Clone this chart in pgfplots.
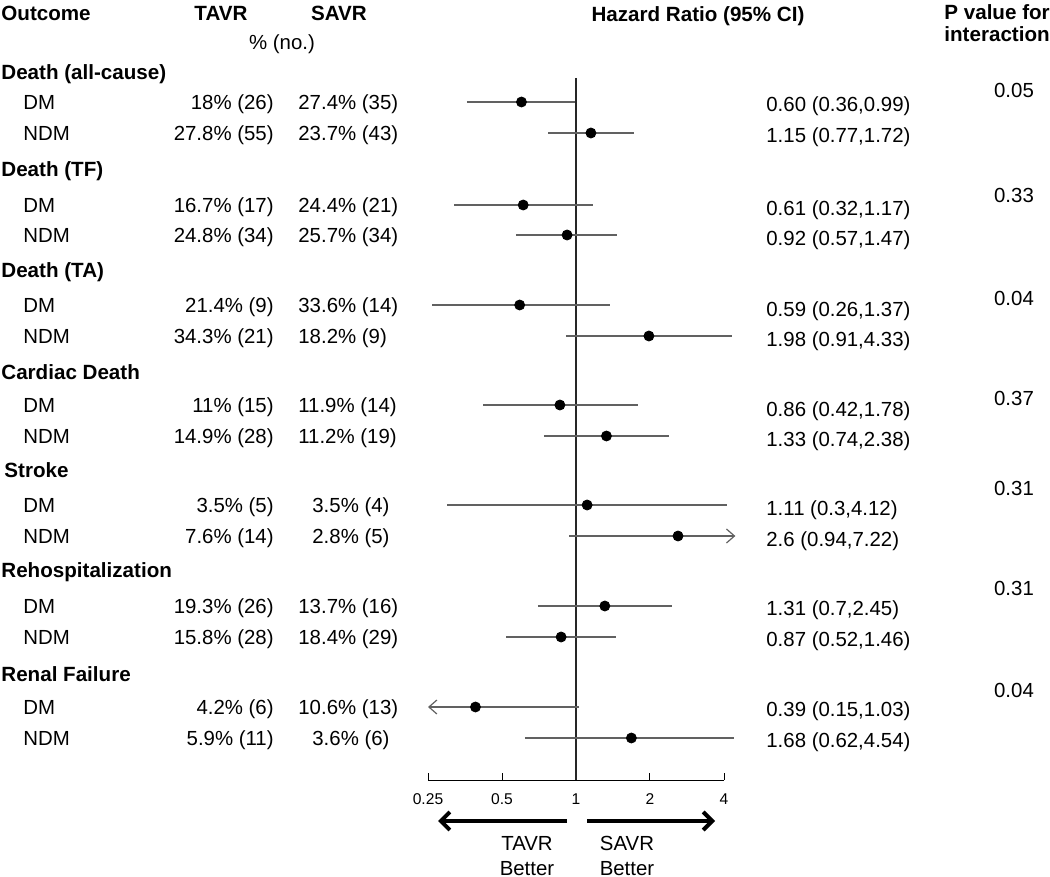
\documentclass[border=0pt]{standalone}
\usepackage{pgfplots}
\pgfplotsset{compat=1.18}
\usepackage{fontspec}
\setmainfont{Liberation Sans}
\usetikzlibrary{arrows.meta}

\pgfplotstableread{
y hr lo hi
-102 0.60 0.36 0.99
-133 1.15 0.77 1.72
-205 0.61 0.32 1.17
-235 0.92 0.57 1.47
-305 0.59 0.26 1.37
-336 1.98 0.91 4.33
-405 0.86 0.42 1.78
-436 1.33 0.74 2.38
-505 1.11 0.30 4.12
-536 2.60 0.94 7.22
-606 1.31 0.70 2.45
-637 0.87 0.52 1.46
-707 0.39 0.15 1.03
-738 1.68 0.62 4.54
}\hrtable

\tikzset{
  t/.style={font=\fontsize{10.2}{12}\selectfont, inner sep=0pt, text height=7.3pt, text depth=0pt},
  b/.style={font=\fontsize{10.3}{12}\selectfont\bfseries, inner sep=0pt, text height=7.4pt, text depth=0pt},
}
\newcommand{\figsp}{\hspace*{7pt}}

\begin{document}
\begin{tikzpicture}
\path[use as bounding box] (0,0) rectangle (525pt,-438.5pt);
\begin{axis}[
  at={(214pt,-390pt)}, anchor=south west,
  scale only axis, width=148pt, height=351pt,
  xmode=log, log basis x=2, xmin=0.25, xmax=4,
  ymin=-780, ymax=-78,
  axis x line=bottom, axis y line=none,
  axis line style={-, black, line width=0.5pt},
  xtick={0.25,0.5,1,2,4}, xticklabels={0.25,0.5,1,2,4},
  ytick=\empty,
  tick align=inside, major tick length=3.5pt,
  tick style={black, line width=0.5pt},
  xticklabel style={font=\fontsize{7.8}{9}\selectfont, yshift=-3.2pt},
  clip=false,
  ci/.style={color=black!62, line width=0.6pt, no marks},
]
\addplot[black!85, line width=0.55pt, no marks] coordinates {(1,-78) (1,-780)};
\addplot[ci] coordinates {(0.36,-102) (0.99,-102)};
\addplot[ci] coordinates {(0.77,-133) (1.72,-133)};
\addplot[ci] coordinates {(0.32,-205) (1.17,-205)};
\addplot[ci] coordinates {(0.57,-235) (1.47,-235)};
\addplot[ci] coordinates {(0.26,-305) (1.37,-305)};
\addplot[ci] coordinates {(0.91,-336) (4.33,-336)};
\addplot[ci] coordinates {(0.42,-405) (1.78,-405)};
\addplot[ci] coordinates {(0.74,-436) (2.38,-436)};
\addplot[ci] coordinates {(0.30,-505) (4.12,-505)};
\addplot[ci, -{Straight Barb[length=4pt,width=7pt]}] coordinates {(0.94,-536) (4.45,-536)};
\addplot[ci] coordinates {(0.70,-606) (2.45,-606)};
\addplot[ci] coordinates {(0.52,-637) (1.46,-637)};
\addplot[ci, -{Straight Barb[length=4pt,width=7pt]}] coordinates {(1.03,-707) (0.25,-707)};
\addplot[ci] coordinates {(0.62,-738) (4.40,-738)};
\addplot[only marks, mark=*, mark size=2.5pt, black] table[x=hr, y=y] {\hrtable};
\end{axis}

\begin{scope}[x=0.5pt, y=-0.5pt]
% headers
\node[b, anchor=west] at (1,13) {Outcome};
\node[b] at (221,13) {TAVR};
\node[b] at (339,13) {SAVR};
\node[t] at (282,42) {\% (no.)};
\node[b] at (698,14) {Hazard Ratio (95\% CI)};
\node[b, anchor=west] at (944,12) {P value for};
\node[b, anchor=west] at (944,34) {interaction};

% group headings
\node[b, anchor=west] at (1,72) {Death (all-cause)};
\node[b, anchor=west] at (1,169) {Death (TF)};
\node[b, anchor=west] at (1,270) {Death (TA)};
\node[b, anchor=west] at (1,372) {Cardiac Death};
\node[b, anchor=west] at (4,470) {Stroke};
\node[b, anchor=west] at (1,570) {Rehospitalization};
\node[b, anchor=west] at (1,674) {Renal Failure};

% subgroup labels
\foreach \yy in {102,205,305,405,505,606,707} {\node[t, anchor=west] at (23,\yy) {DM};}
\foreach \yy in {133,235,336,436,536,637,738} {\node[t, anchor=west] at (23,\yy) {NDM};}

% TAVR column (right aligned)
\node[t, anchor=east] at (274,102) {18\% (26)};
\node[t, anchor=east] at (274,133) {27.8\% (55)};
\node[t, anchor=east] at (274,205) {16.7\% (17)};
\node[t, anchor=east] at (274,235) {24.8\% (34)};
\node[t, anchor=east] at (274,305) {21.4\% (9)};
\node[t, anchor=east] at (274,336) {34.3\% (21)};
\node[t, anchor=east] at (274,405) {11\% (15)};
\node[t, anchor=east] at (274,436) {14.9\% (28)};
\node[t, anchor=east] at (274,505) {3.5\% (5)};
\node[t, anchor=east] at (274,536) {7.6\% (14)};
\node[t, anchor=east] at (274,606) {19.3\% (26)};
\node[t, anchor=east] at (274,637) {15.8\% (28)};
\node[t, anchor=east] at (274,707) {4.2\% (6)};
\node[t, anchor=east] at (274,738) {5.9\% (11)};

% SAVR column
\node[t, anchor=west] at (298,102) {27.4\% (35)};
\node[t, anchor=west] at (298,133) {23.7\% (43)};
\node[t, anchor=west] at (298,205) {24.4\% (21)};
\node[t, anchor=west] at (298,235) {25.7\% (34)};
\node[t, anchor=west] at (298,305) {33.6\% (14)};
\node[t, anchor=west] at (298,336) {18.2\% (9)};
\node[t, anchor=west] at (298,405) {11.9\% (14)};
\node[t, anchor=west] at (298,436) {11.2\% (19)};
\node[t, anchor=west] at (298,505) {\figsp 3.5\% (4)};
\node[t, anchor=west] at (298,536) {\figsp 2.8\% (5)};
\node[t, anchor=west] at (298,606) {13.7\% (16)};
\node[t, anchor=west] at (298,637) {18.4\% (29)};
\node[t, anchor=west] at (298,707) {10.6\% (13)};
\node[t, anchor=west] at (298,738) {\figsp 3.6\% (6)};

% HR column
\node[t, anchor=west] at (766,104) {0.60 (0.36,0.99)};
\node[t, anchor=west] at (766,135) {1.15 (0.77,1.72)};
\node[t, anchor=west] at (766,208) {0.61 (0.32,1.17)};
\node[t, anchor=west] at (766,238) {0.92 (0.57,1.47)};
\node[t, anchor=west] at (766,309) {0.59 (0.26,1.37)};
\node[t, anchor=west] at (766,339) {1.98 (0.91,4.33)};
\node[t, anchor=west] at (766,409) {0.86 (0.42,1.78)};
\node[t, anchor=west] at (766,439) {1.33 (0.74,2.38)};
\node[t, anchor=west] at (766,508) {1.11 (0.3,4.12)};
\node[t, anchor=west] at (766,539) {2.6 (0.94,7.22)};
\node[t, anchor=west] at (766,608) {1.31 (0.7,2.45)};
\node[t, anchor=west] at (766,639) {0.87 (0.52,1.46)};
\node[t, anchor=west] at (766,709) {0.39 (0.15,1.03)};
\node[t, anchor=west] at (766,740) {1.68 (0.62,4.54)};

% P values
\node[t] at (1014,90) {0.05};
\node[t] at (1014,195) {0.33};
\node[t] at (1014,298) {0.04};
\node[t] at (1014,398) {0.37};
\node[t] at (1014,488) {0.31};
\node[t] at (1014,588) {0.31};
\node[t] at (1014,690) {0.04};

% direction arrows
\draw[line width=2pt, -{Straight Barb[length=4.5pt,width=9pt]}] (567,821) -- (438,821);
\draw[line width=2pt, -{Straight Barb[length=4.5pt,width=9pt]}] (587,821) -- (715,821);
\node[t] at (527,843) {TAVR};
\node[t] at (527,868) {Better};
\node[t] at (627,843) {SAVR};
\node[t] at (627,868) {Better};
\end{scope}
\end{tikzpicture}
\end{document}
